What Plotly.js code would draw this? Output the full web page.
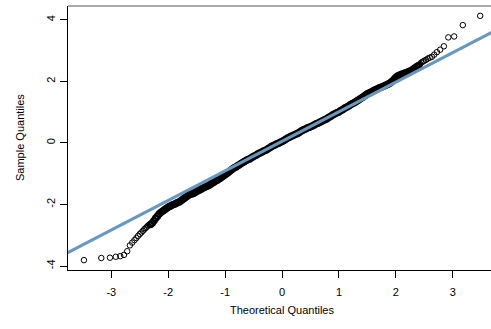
<!DOCTYPE html>
<html>
<head>
<meta charset="utf-8">
<script src="https://cdn.plot.ly/plotly-3.0.1.min.js"></script>
<style>
  html, body { margin: 0; padding: 0; overflow: hidden; background: #fff; }
  #qq { width: 491px; height: 329px; }
</style>
</head>
<body>
<div id="qq"></div>
<script>
// Normal Q-Q plot: theoretical normal quantiles against sorted sample values
const theoreticalQ = [
  -3.48, -3.175, -3.023, -2.92, -2.842, -2.777, -2.72, -2.673, -2.632, -2.593,
  -2.559, -2.528, -2.498, -2.471, -2.445, -2.421, -2.398, -2.376, -2.356, -2.335,
  -2.31, -2.28, -2.25, -2.22, -2.19, -2.16, -2.13, -2.10, -2.07, -2.04,
  -2.01, -1.98, -1.95, -1.92, -1.89, -1.86, -1.83, -1.80, -1.77, -1.74,
  -1.71, -1.68, -1.65, -1.62, -1.59, -1.56, -1.53, -1.50, -1.47, -1.44,
  -1.41, -1.38, -1.35, -1.32, -1.29, -1.26, -1.23, -1.20, -1.17, -1.14,
  -1.11, -1.08, -1.05, -1.02, -0.99, -0.96, -0.93, -0.90, -0.87, -0.84,
  -0.81, -0.78, -0.75, -0.72, -0.69, -0.66, -0.63, -0.60, -0.57, -0.54,
  -0.51, -0.48, -0.45, -0.42, -0.39, -0.36, -0.33, -0.30, -0.27, -0.24,
  -0.21, -0.18, -0.15, -0.12, -0.09, -0.06, -0.03, 0.00, 0.03, 0.06,
  0.09, 0.12, 0.15, 0.18, 0.21, 0.24, 0.27, 0.30, 0.33, 0.36,
  0.39, 0.42, 0.45, 0.48, 0.51, 0.54, 0.57, 0.60, 0.63, 0.66,
  0.69, 0.72, 0.75, 0.78, 0.81, 0.84, 0.87, 0.90, 0.93, 0.96,
  0.99, 1.02, 1.05, 1.08, 1.11, 1.14, 1.17, 1.20, 1.23, 1.26,
  1.29, 1.32, 1.35, 1.38, 1.41, 1.44, 1.47, 1.50, 1.53, 1.56,
  1.59, 1.62, 1.65, 1.68, 1.71, 1.74, 1.77, 1.80, 1.83, 1.86,
  1.89, 1.92, 1.95, 1.98, 2.01, 2.04, 2.07, 2.10, 2.13, 2.16,
  2.19, 2.22, 2.25, 2.28, 2.31, 2.34, 2.37, 2.40,
  2.421, 2.445, 2.471, 2.498, 2.528, 2.559, 2.593, 2.632, 2.673, 2.72,
  2.777, 2.842, 2.92, 3.023, 3.175, 3.48
];
const sampleQ = [
  -3.81, -3.74, -3.73, -3.70, -3.68, -3.64, -3.52, -3.33, -3.24, -3.16,
  -3.09, -3.02, -2.96, -2.91, -2.86, -2.81, -2.77, -2.73, -2.69, -2.66,
  -2.65, -2.60, -2.53, -2.45, -2.38, -2.31, -2.26, -2.22, -2.18, -2.14,
  -2.10, -2.07, -2.04, -2.01, -1.99, -1.96, -1.94, -1.91, -1.87, -1.83,
  -1.79, -1.75, -1.71, -1.68, -1.66, -1.64, -1.61, -1.58, -1.55, -1.52,
  -1.49, -1.46, -1.43, -1.41, -1.38, -1.35, -1.31, -1.28, -1.24, -1.21,
  -1.17, -1.14, -1.10, -1.06, -1.02, -0.98, -0.94, -0.89, -0.85, -0.81,
  -0.78, -0.74, -0.71, -0.67, -0.64, -0.60, -0.57, -0.54, -0.52, -0.48,
  -0.45, -0.42, -0.39, -0.35, -0.33, -0.30, -0.27, -0.25, -0.22, -0.18,
  -0.15, -0.11, -0.08, -0.06, -0.03, -0.01, 0.02, 0.05, 0.08, 0.11,
  0.15, 0.18, 0.21, 0.23, 0.26, 0.28, 0.31, 0.34, 0.38, 0.41,
  0.44, 0.46, 0.49, 0.51, 0.53, 0.56, 0.59, 0.62, 0.64, 0.67,
  0.70, 0.73, 0.75, 0.78, 0.82, 0.85, 0.88, 0.92, 0.95, 0.98,
  1.00, 1.04, 1.07, 1.10, 1.14, 1.17, 1.20, 1.24, 1.27, 1.30,
  1.33, 1.37, 1.40, 1.44, 1.48, 1.52, 1.56, 1.60, 1.62, 1.65,
  1.68, 1.71, 1.74, 1.76, 1.79, 1.81, 1.83, 1.86, 1.88, 1.91,
  1.94, 1.98, 2.03, 2.09, 2.14, 2.18, 2.21, 2.23, 2.25, 2.27,
  2.29, 2.31, 2.34, 2.36, 2.40, 2.44, 2.48, 2.52,
  2.56, 2.61, 2.64, 2.67, 2.70, 2.74, 2.77, 2.80, 2.87, 2.95,
  3.03, 3.14, 3.43, 3.46, 3.83, 4.13
];

// Reference line through the quartiles
const qqIntercept = 0.053;
const qqSlope = 0.961;

const xTickVals = [-3, -2, -1, 0, 1, 2, 3];
const xTickText = ["-3", "-2", "-1", "0", "1", "2", "3"];
const yTickVals = [-4, -2, 0, 2, 4];
const yTickText = ["-4", "-2", "0", "2", "4"];

const xRange = [-3.76, 3.67];
const yRange = [-4.13, 4.45];

const fontFamily = "Liberation Sans, Arial, Helvetica, sans-serif";

const lineX = [-4, 4];
const lineY = lineX.map(v => qqIntercept + qqSlope * v);

// Where thousands of circles pile up the ring outlines merge into a solid band;
// a heavier outline in that crowded middle stretch renders the same solid band.
const denseFrom = -2.32, denseTo = 2.41;
const ringWidths = theoreticalQ.map(q => (q >= denseFrom && q <= denseTo) ? 2 : 1);

const points = {
  x: theoreticalQ,
  y: sampleQ,
  type: "scatter",
  mode: "markers",
  marker: {
    symbol: "circle-open",
    size: 5.5,
    color: "#000",
    line: { color: "#000", width: ringWidths }
  },
  hoverinfo: "skip"
};

const refLine = {
  x: lineX,
  y: lineY,
  type: "scatter",
  mode: "lines",
  line: { color: "#6898c0", width: 3 },
  hoverinfo: "skip"
};

const axisCommon = {
  showgrid: false,
  zeroline: false,
  showline: true,
  linecolor: "#000",
  linewidth: 1,
  ticks: "outside",
  ticklen: 7,
  tickwidth: 1,
  tickcolor: "#000",
  tickfont: { family: fontFamily, size: 11, color: "#000" },
  tickmode: "array",
  fixedrange: true
};

const layout = {
  width: 491,
  height: 329,
  margin: { l: 68, r: 0, t: 6, b: 59 },
  paper_bgcolor: "#fff",
  plot_bgcolor: "#fff",
  showlegend: false,
  xaxis: Object.assign({}, axisCommon, {
    range: xRange,
    tickvals: xTickVals,
    ticktext: xTickText,
    ticklabelstandoff: 5
  }),
  yaxis: Object.assign({}, axisCommon, {
    range: yRange,
    tickvals: yTickVals,
    ticktext: yTickText,
    tickangle: -90,
    ticklabelstandoff: 1
  }),
  shapes: [{
    type: "line", xref: "paper", yref: "paper",
    x0: 0, x1: 1, y0: 1, y1: 1,
    line: { color: "#555", width: 1 }
  }],
  annotations: [
    {
      text: "Theoretical Quantiles",
      xref: "x", yref: "paper", x: 0, y: 0,
      yshift: -40, showarrow: false,
      xanchor: "center", yanchor: "middle",
      font: { family: fontFamily, size: 11, color: "#000" }
    },
    {
      text: "Sample Quantiles",
      xref: "paper", yref: "paper", x: 0, y: 0.5,
      xshift: -48, showarrow: false, textangle: -90,
      xanchor: "center", yanchor: "middle",
      font: { family: fontFamily, size: 11, color: "#000" }
    }
  ]
};

Plotly.newPlot("qq", [points, refLine], layout, { staticPlot: true, displayModeBar: false });
</script>
</body>
</html>
